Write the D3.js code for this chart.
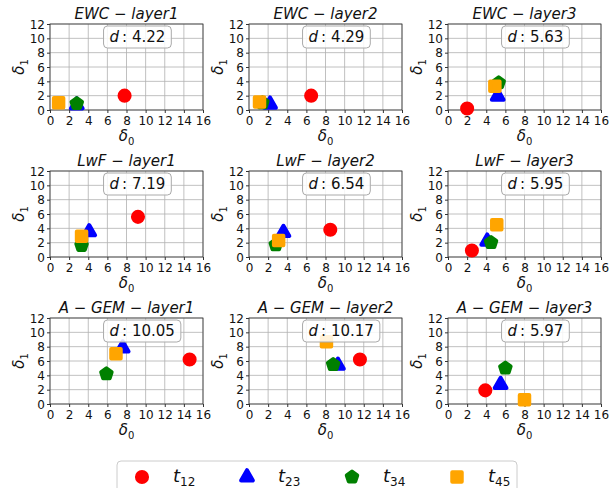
<!DOCTYPE html>
<html>
<head>
<meta charset="utf-8">
<script src="https://cdn.jsdelivr.net/npm/d3@7"></script>
<style>
  body { margin: 0; background: #fff; }
  text { font-family: "DejaVu Sans", sans-serif; }
</style>
</head>
<body>
<script>
// panel data
var methods = ["EWC", "LwF", "A-GEM"];
var layers = ["layer1", "layer2", "layer3"];
var seriesNames = ["12", "23", "34", "45"];
var seriesColors = ["red", "blue", "green", "orange"];

// distances shown in each box (row = method, col = layer)
var distances = [
    ["4.22", "4.29", "5.63"],
    ["7.19", "6.54", "5.95"],
    ["10.05", "10.17", "5.97"]
];

// [delta0, delta1] for t12, t23, t34, t45
var ewcPoints = [
    [[7.8, 2.0], [2.8, 0.7], [2.8, 0.9], [0.9, 1.0]],
    [[6.5, 2.0], [2.2, 0.8], [1.4, 1.0], [1.1, 1.1]],
    [[2.0, 0.2], [5.2, 1.9], [5.3, 3.8], [4.9, 3.3]]
];
var lwfPoints = [
    [[9.2, 5.6], [4.1, 3.5], [3.3, 1.6], [3.3, 2.9]],
    [[8.5, 3.8], [3.6, 3.4], [2.8, 1.7], [3.1, 2.3]],
    [[2.5, 0.9], [4.1, 2.2], [4.5, 2.0], [5.1, 4.5]]
];
var agemPoints = [
    [[14.6, 6.2], [7.6, 7.8], [5.9, 4.2], [6.9, 7.0]],
    [[11.6, 6.2], [9.3, 5.4], [8.8, 5.5], [8.1, 8.7]],
    [[3.9, 1.9], [5.5, 2.7], [6.0, 5.0], [8.0, 0.6]]
];
var allPoints = [ewcPoints, lwfPoints, agemPoints];

var xTicks = [0, 2, 4, 6, 8, 10, 12, 14, 16];
var yTicks = [0, 2, 4, 6, 8, 10, 12];

var svgWidth = 610;
var svgHeight = 488;

var colLeft = [50, 249, 448];
var rowTop = [24, 171, 318];
var panelW = 153;
var panelH = 86;

var svg = d3.select("body").append("svg")
    .attr("width", svgWidth)
    .attr("height", svgHeight);

// pentagon symbol (d3 has none)
var symbolPentagon = {
    draw: function (context, size) {
        var r = Math.sqrt(size / 2.378);
        for (var i = 0; i < 5; i++) {
            var a = -Math.PI / 2 + i * 2 * Math.PI / 5;
            var px = r * Math.cos(a), py = r * Math.sin(a);
            if (i === 0) context.moveTo(px, py); else context.lineTo(px, py);
        }
        context.closePath();
    }
};
var symbols = [
    d3.symbol().type(d3.symbolCircle).size(80),
    d3.symbol().type(d3.symbolTriangle).size(60),
    d3.symbol().type(symbolPentagon).size(72),
    d3.symbol().type(d3.symbolSquare).size(90)
];

var x = d3.scaleLinear().domain([0, 16]).range([0, panelW]);
var y = d3.scaleLinear().domain([0, 12]).range([panelH, 0]);

function drawMarker(g, i, px, py) {
    g.append("path")
        .attr("d", symbols[i]())
        .attr("transform", `translate(${px}, ${py})`)
        .attr("fill", seriesColors[i])
        .attr("stroke", seriesColors[i])
        .attr("stroke-width", 4)
        .attr("stroke-linejoin", "round");
}

methods.forEach(function (method, r) {
    layers.forEach(function (layer, c) {
        var g = svg.append("g")
            .attr("transform", `translate(${colLeft[c]}, ${rowTop[r]})`);

        // grid
        g.append("g").selectAll("line")
            .data(xTicks).enter().append("line")
            .attr("x1", d => x(d)).attr("x2", d => x(d))
            .attr("y1", 0).attr("y2", panelH)
            .attr("stroke", "#b0b0b0").attr("stroke-width", 0.8);
        g.append("g").selectAll("line")
            .data(yTicks).enter().append("line")
            .attr("y1", d => y(d)).attr("y2", d => y(d))
            .attr("x1", 0).attr("x2", panelW)
            .attr("stroke", "#b0b0b0").attr("stroke-width", 0.8);

        // axes
        var xAxis = g.append("g")
            .attr("transform", `translate(0, ${panelH})`)
            .call(d3.axisBottom(x).tickValues(xTicks).tickSize(3).tickPadding(2));
        var yAxis = g.append("g")
            .call(d3.axisLeft(y).tickValues(yTicks).tickSize(3).tickPadding(2));
        [xAxis, yAxis].forEach(function (ax) {
            ax.select(".domain").remove();
            ax.selectAll("text").attr("font-size", 12).attr("fill", "#111")
                .attr("font-family", "DejaVu Sans");
            ax.selectAll("line").attr("stroke", "#333");
        });
        xAxis.selectAll("text").attr("dy", "0.8em");
        yAxis.selectAll("text").attr("dy", "0.36em");

        // frame
        g.append("rect")
            .attr("width", panelW).attr("height", panelH)
            .attr("fill", "none").attr("stroke", "#333").attr("stroke-width", 0.8);

        // markers
        allPoints[r][c].forEach(function (p, i) {
            drawMarker(g, i, x(p[0]), y(p[1]));
        });

        // d box
        var boxX = panelW * 0.35;
        var box = g.append("g").attr("transform", `translate(${boxX}, 2)`);
        var bt = box.append("text")
            .attr("x", 6).attr("y", 16)
            .attr("font-size", 15).attr("fill", "#111");
        bt.append("tspan").attr("font-style", "italic").text("d");
        bt.append("tspan").text("\u2009: " + distances[r][c]);
        var bw = bt.node().getComputedTextLength() + 12;
        box.insert("rect", "text")
            .attr("width", bw).attr("height", 22)
            .attr("rx", 4)
            .attr("fill", "#fff").attr("fill-opacity", 0.85)
            .attr("stroke", "#aaa").attr("stroke-width", 1);

        // title
        g.append("text")
            .attr("x", panelW / 2).attr("y", -5)
            .attr("text-anchor", "middle")
            .attr("font-size", 15).attr("fill", "#111")
            .attr("font-style", "italic")
            .text(method.replace(/-/g, " \u2212 ") + " \u2212 " + layer);

        // x label
        var xl = g.append("text")
            .attr("x", panelW / 2).attr("y", panelH + 31)
            .attr("text-anchor", "middle").attr("font-size", 15).attr("fill", "#111");
        xl.append("tspan").attr("font-style", "italic").text("\u03b4");
        xl.append("tspan").attr("font-size", 10).attr("dy", 4).text("0");

        // y label
        var yl = g.append("text")
            .attr("transform", `translate(-26, ${panelH / 2}) rotate(-90)`)
            .attr("text-anchor", "middle").attr("font-size", 15).attr("fill", "#111");
        yl.append("tspan").attr("font-style", "italic").text("\u03b4");
        yl.append("tspan").attr("font-size", 10).attr("dy", 4).text("1");
    });
});

// legend
var legend = svg.append("g").attr("transform", "translate(117, 461)");
legend.append("rect")
    .attr("width", 400).attr("height", 40)
    .attr("rx", 4)
    .attr("fill", "#fff").attr("stroke", "#ccc").attr("stroke-width", 1);
seriesNames.forEach(function (name, i) {
    var lx = 25 + i * 105;
    drawMarker(legend, i, lx, 16);
    var t = legend.append("text")
        .attr("x", lx + 31).attr("y", 21)
        .attr("font-size", 18).attr("fill", "#111");
    t.append("tspan").attr("font-style", "italic").text("t");
    t.append("tspan").attr("font-size", 12).attr("dy", 4).text(name);
});
</script>
</body>
</html>
